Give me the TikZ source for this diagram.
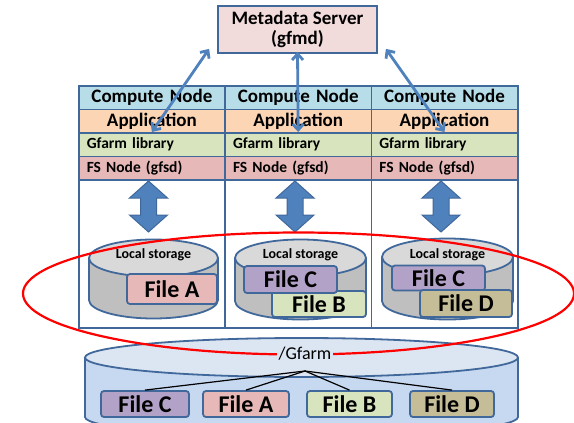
\documentclass[tikz,border=0pt]{standalone}
\usepackage{fontspec}
\setmainfont{Carlito}
\usetikzlibrary{arrows.meta}
\definecolor{bord}{HTML}{41689B}
\definecolor{blk}{HTML}{4F81BD}
\definecolor{srvfill}{HTML}{F2DCDB}
\definecolor{cnode}{HTML}{B7DEE8}
\definecolor{appl}{HTML}{FCD5B5}
\definecolor{libr}{HTML}{D7E4BD}
\definecolor{fsn}{HTML}{E6B9B8}
\definecolor{fpurple}{HTML}{B3A2C7}
\definecolor{ftan}{HTML}{C4BD97}
\definecolor{gtop}{HTML}{DCE6F2}
\definecolor{gbody}{HTML}{C6D9F1}
\definecolor{stop}{HTML}{D9D9D9}
\definecolor{sbody}{HTML}{BFBFBF}

% cylinder: cx, rx, ry, top y, bottom y, top fill, body fill
\newcommand{\drum}[7]{%
  \filldraw[fill=#7, draw=bord, line width=1.8pt] (#1,#5) ellipse [x radius=#2, y radius=#3];
  \fill[#7] (#1-#2,#4) rectangle (#1+#2,#5);
  \draw[bord, line width=1.8pt] (#1-#2,#4) -- (#1-#2,#5) (#1+#2,#4) -- (#1+#2,#5);
  \filldraw[fill=#6, draw=bord, line width=1.8pt] (#1,#4) ellipse [x radius=#2, y radius=#3];
}

\begin{document}
\begin{tikzpicture}[x=1pt, y=-1pt,
    colbox/.style={draw=bord, line width=1.8pt, anchor=north west, minimum width=146.3pt, minimum height=242pt, inner sep=0pt},
    row/.style={draw=bord, line width=1.5pt, anchor=north west, text width=130.3pt, inner xsep=8pt, inner ysep=0pt, minimum height=23.5pt},
    big/.style={font=\fontsize{19}{20}\selectfont\bfseries},
    small/.style={font=\fontsize{15.5}{16}\selectfont\bfseries},
    file/.style={draw=bord, line width=1.8pt, rounded corners=3pt, inner sep=0pt, font=\fontsize{24}{24}\selectfont\bfseries},
    link/.style={blk, line width=2.8pt, {Straight Barb[length=6pt,width=11pt]}-{Straight Barb[length=6pt,width=11pt]}},
    tree/.style={black, line width=1.2pt},
]
\useasboundingbox[fill=white] (0,0) rectangle (574,423);

\node[draw=bord, line width=1.8pt, fill=srvfill, minimum width=159pt, minimum height=47pt, align=center,
      big, inner sep=0pt] (server) at (297.5,29.5) {Metadata Server\\[0pt](gfmd)};

\foreach \i/\x in {1/78, 2/224.3, 3/370.6} {
  \node[colbox] (col\i) at (\x,85) {};
  \node[row, fill=cnode, align=center, big] (cn\i) at (\x,85) {Compute Node};
  \node[row, fill=appl, align=center, big] (app\i) at (\x,108.5) {Application};
  \node[row, fill=libr, align=left, small] (lib\i) at (\x,132) {Gfarm library};
  \node[row, fill=fsn, align=left, small] (fs\i) at (\x,155.5) {FS Node (gfsd)};
}

% block arrows FS node <-> local storage
\foreach \c in {148.5, 295, 441} {
  \filldraw[fill=blk, draw=bord, line width=1pt] (\c,181) -- (\c+19,198) -- (\c+8,198) -- (\c+8,215)
    -- (\c+19,215) -- (\c,232) -- (\c-19,215) -- (\c-8,215) -- (\c-8,198) -- (\c-19,198) -- cycle;
}

% local storage
\drum{153.5}{64.5}{18.5}{258}{300}{stop}{sbody}
\drum{300.5}{65.5}{18.5}{258}{301}{stop}{sbody}
\drum{447.5}{65.5}{18.5}{257}{301}{stop}{sbody}
\foreach \i/\c in {1/153.5, 2/300.5, 3/447.5}
  \node[font=\fontsize{14}{14}\selectfont\bfseries] (ls\i) at (\c,255) {Local storage};

\node[file, fill=fsn, minimum width=90pt, minimum height=30pt] (sA) at (172,289) {File A};
\node[file, fill=libr, minimum width=94pt, minimum height=26pt] (sB) at (319,304) {File B};
\node[file, fill=fpurple, minimum width=93pt, minimum height=27pt] (sC2) at (290.5,279.5) {File C};
\node[file, fill=fpurple, minimum width=93pt, minimum height=25pt] (sC3) at (438.5,278) {File C};
\node[file, fill=ftan, minimum width=92pt, minimum height=27pt] (sD) at (466,303.5) {File D};

% metadata links
\draw[link] ([shift={(-8,-5)}]server.south west) -- (lib1.north);
\draw[link] ([yshift=2pt]server.south) -- (lib2.north);
\draw[link] ([shift={(8,-5)}]server.south east) -- (lib3.north);

% global namespace
\drum{301.5}{216.5}{19.5}{357.5}{417}{gtop}{gbody}
\coordinate (root) at (305,371);
\node[file, fill=fpurple, minimum width=88pt, minimum height=26pt] (bC) at (145,404) {File C};
\node[file, fill=fsn, minimum width=86pt, minimum height=26pt] (bA) at (246,404) {File A};
\node[file, fill=libr, minimum width=85pt, minimum height=26pt] (bB) at (349.5,404) {File B};
\node[file, fill=ftan, minimum width=84pt, minimum height=26pt] (bD) at (452,404) {File D};
\foreach \f in {bC,bA,bB,bD}
  \draw[tree] (root) -- (\f.north);

\draw[red, line width=2.2pt] (298.5,293.5) ellipse [x radius=275.5, y radius=61];
\node[fill=gtop, inner sep=1.5pt, font=\fontsize{18}{18}\selectfont] (gfarm) at (305,354) {/Gfarm};
\end{tikzpicture}
\end{document}
